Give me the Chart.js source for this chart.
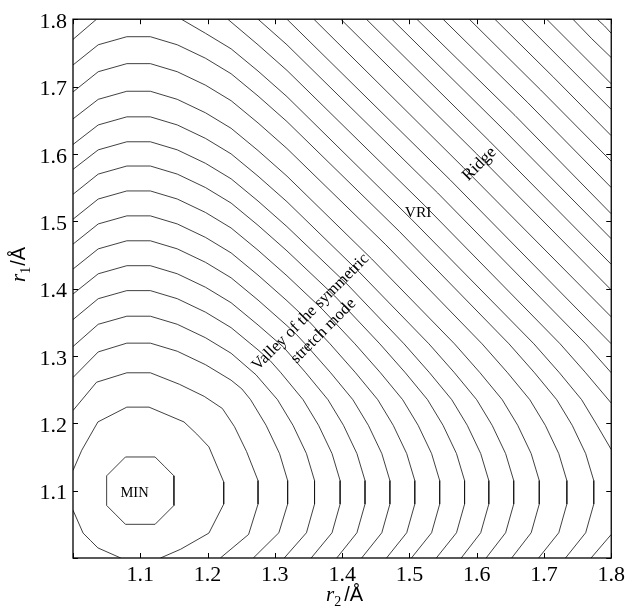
<!DOCTYPE html>
<html>
<head>
<meta charset="utf-8">
<script src="https://cdn.jsdelivr.net/npm/chart.js@4.4.1/dist/chart.umd.min.js"></script>
<style>
  html, body { margin: 0; padding: 0; background: #fff; }
  #wrap { width: 629px; height: 609px; position: relative; }
</style>
</head>
<body>
<div id="wrap"><canvas id="c" width="629" height="609"></canvas></div>
<script>
// Axis ticks (Å)
const tickValues = [1.0, 1.1, 1.2, 1.3, 1.4, 1.5, 1.6, 1.7, 1.8];

// Contour lines: upper half (r1 >= r2) read as [r2, r1] points.
// The surface is symmetric in r1 <-> r2; the lower half is the mirror image.
const c01 = [[1.064,1.064],[1.05,1.078],[1.05,1.122],[1.078,1.15],[1.122,1.15],[1.136,1.136]];
const c02 = [[1.0,1.130],[1.013,1.160],[1.037,1.202],[1.08,1.224],[1.113,1.224],[1.165,1.202],[1.184,1.184]];
const c02b = [[1.0,1.071],[1.015,1.037],[1.026,1.026]];
const c03 = [[1.0,1.219],[1.035,1.261],[1.08,1.275],[1.115,1.275],[1.158,1.258],[1.195,1.240],[1.222,1.222]];
const c04 = [[1.0,1.268],[1.0375,1.306],[1.08,1.319],[1.115,1.319],[1.155,1.307],[1.197,1.287],[1.235,1.264],[1.251,1.251]];
const c05 = [[1.0,1.314],[1.0375,1.347],[1.08,1.359],[1.115,1.359],[1.155,1.347],[1.197,1.327],[1.235,1.304],[1.272,1.272]];
const c06 = [[1.0,1.354],[1.0375,1.385],[1.08,1.397],[1.115,1.397],[1.155,1.385],[1.197,1.365],[1.235,1.342],[1.275,1.309],[1.293,1.293]];
const c07 = [[1.0,1.392],[1.0375,1.422],[1.08,1.434],[1.115,1.434],[1.155,1.422],[1.197,1.402],[1.235,1.379],[1.275,1.346],[1.313,1.313]];
const c08 = [[1.0,1.429],[1.0375,1.459],[1.08,1.471],[1.115,1.471],[1.155,1.459],[1.197,1.439],[1.235,1.416],[1.275,1.383],[1.318,1.345],[1.332,1.332]];
const c09 = [[1.0,1.466],[1.0375,1.496],[1.08,1.508],[1.115,1.508],[1.155,1.496],[1.197,1.476],[1.235,1.453],[1.275,1.420],[1.318,1.382],[1.351,1.351]];
const c10 = [[1.0,1.503],[1.0375,1.533],[1.08,1.545],[1.115,1.545],[1.155,1.533],[1.197,1.513],[1.235,1.490],[1.275,1.457],[1.318,1.419],[1.370,1.370]];
const c11 = [[1.0,1.540],[1.0375,1.570],[1.08,1.582],[1.115,1.582],[1.155,1.570],[1.197,1.550],[1.235,1.527],[1.275,1.494],[1.318,1.456],[1.389,1.389]];
const c12 = [[1.0,1.577],[1.0375,1.606],[1.08,1.618],[1.115,1.618],[1.155,1.606],[1.197,1.586],[1.235,1.563],[1.275,1.530],[1.318,1.492],[1.407,1.407]];
const c13 = [[1.0,1.614],[1.0375,1.643],[1.08,1.655],[1.115,1.655],[1.155,1.643],[1.197,1.623],[1.235,1.600],[1.275,1.567],[1.318,1.529],[1.425,1.425]];
const c14 = [[1.0,1.652],[1.0375,1.681],[1.08,1.693],[1.115,1.693],[1.155,1.681],[1.197,1.661],[1.235,1.638],[1.275,1.605],[1.318,1.567],[1.444,1.444]];
const c15 = [[1.0,1.692],[1.0375,1.722],[1.08,1.734],[1.115,1.734],[1.155,1.722],[1.197,1.702],[1.235,1.679],[1.275,1.646],[1.318,1.608],[1.465,1.465]];
const c16 = [[1.0,1.732],[1.0375,1.762],[1.08,1.774],[1.115,1.774],[1.155,1.762],[1.197,1.742],[1.235,1.719],[1.275,1.686],[1.318,1.648],[1.485,1.485]];
const c17a = [[1.0,1.770],[1.035,1.8]];
const c17 = [[1.161,1.8],[1.197,1.779],[1.235,1.756],[1.275,1.723],[1.318,1.685],[1.503,1.503]];
const c18 = [[1.230,1.8],[1.275,1.762],[1.318,1.724],[1.523,1.523]];
const c19 = [[1.275,1.8],[1.318,1.762],[1.542,1.542]];
const c20 = [[1.318,1.8],[1.561,1.561]];
const c21 = [[1.358,1.8],[1.580,1.580]];
const c22 = [[1.398,1.8],[1.600,1.600]];
const c23 = [[1.436,1.8],[1.619,1.619]];
const c24 = [[1.474,1.8],[1.638,1.638]];
const c25 = [[1.511,1.8],[1.657,1.657]];
const c26 = [[1.550,1.8],[1.676,1.676]];
const c27 = [[1.589,1.8],[1.695,1.695]];
const c28 = [[1.627,1.8],[1.714,1.714]];
const c29 = [[1.666,1.8],[1.733,1.733]];
const c30 = [[1.704,1.8],[1.752,1.752]];
const c31 = [[1.743,1.8],[1.771,1.771]];
const c32 = [[1.779,1.8],[1.790,1.790]];

const contourHalves = [c01,c02,c02b,c03,c04,c05,c06,c07,c08,c09,c10,c11,c12,c13,c14,c15,c16,
  c17a,c17,c18,c19,c20,c21,c22,c23,c24,c25,c26,c27,c28,c29,c30,c31,c32];

// Text annotations
const labelTexts = ['MIN', 'VRI', 'Ridge', 'Valley of the symmetric', 'stretch mode'];
const labelR2 = [1.0915, 1.513, 1.604, 1.353, 1.372];
const labelR1 = [1.096, 1.513, 1.585, 1.365, 1.337];
const labelRot = [0, 0, -45, -45, -45];
const labelSize = [14.5, 15.5, 17, 16.5, 16.5];

// Build datasets: half + mirrored half (joined when the half ends on the diagonal)
const datasets = [];
const lineStyle = { showLine: true, pointRadius: 0, borderColor: 'rgba(20,20,20,0.9)', borderWidth: 0.9, fill: false, tension: 0 };
contourHalves.forEach(h => {
  const pts = h.map(p => ({x: p[0], y: p[1]}));
  const mirror = h.map(p => ({x: p[1], y: p[0]})).reverse();
  const last = h[h.length - 1];
  if (Math.abs(last[0] - last[1]) < 1e-9) {
    datasets.push(Object.assign({ data: pts.concat(mirror.slice(1)) }, lineStyle));
  } else {
    datasets.push(Object.assign({ data: pts }, lineStyle));
    datasets.push(Object.assign({ data: mirror }, lineStyle));
  }
});

const overlay = {
  id: 'overlay',
  afterDraw(chart) {
    const { ctx, chartArea: a, scales: { x, y } } = chart;
    ctx.save();
    // frame
    ctx.strokeStyle = '#000';
    ctx.lineWidth = 1.3;
    ctx.strokeRect(a.left, a.top, a.right - a.left, a.bottom - a.top);
    // inward ticks
    ctx.lineWidth = 1;
    tickValues.forEach(v => {
      const px = Math.round(x.getPixelForValue(v)) + 0.5;
      const py = Math.round(y.getPixelForValue(v)) + 0.5;
      ctx.beginPath();
      ctx.moveTo(px, a.bottom); ctx.lineTo(px, a.bottom - 5);
      ctx.moveTo(px, a.top); ctx.lineTo(px, a.top + 5);
      ctx.moveTo(a.left, py); ctx.lineTo(a.left + 5, py);
      ctx.moveTo(a.right, py); ctx.lineTo(a.right - 5, py);
      ctx.stroke();
    });
    // annotations
    ctx.fillStyle = '#000';
    ctx.textAlign = 'center';
    ctx.textBaseline = 'middle';
    labelTexts.forEach((t, i) => {
      ctx.save();
      ctx.translate(x.getPixelForValue(labelR2[i]), y.getPixelForValue(labelR1[i]));
      ctx.rotate(labelRot[i] * Math.PI / 180);
      ctx.font = labelSize[i] + 'px "Liberation Serif", "Times New Roman", serif';
      ctx.fillText(t, 0, 0);
      ctx.restore();
    });
    // x axis title: r2 /Å
    ctx.textAlign = 'left';
    ctx.textBaseline = 'alphabetic';
    let cx = 326, by = 601;
    ctx.font = 'italic 21px "Liberation Serif", serif';
    ctx.fillText('r', cx, by); cx += ctx.measureText('r').width;
    ctx.font = '14px "Liberation Serif", serif';
    ctx.fillText('2', cx, by + 5); cx += ctx.measureText('2').width + 3;
    ctx.font = '20px "Liberation Sans", Arial, sans-serif';
    ctx.fillText('/Å', cx, by);
    // y axis title: r1/Å (rotated)
    ctx.save();
    ctx.translate(25, 282);
    ctx.rotate(-Math.PI / 2);
    let cy = 0;
    ctx.font = 'italic 21px "Liberation Serif", serif';
    ctx.fillText('r', cy, 0); cy += ctx.measureText('r').width;
    ctx.font = '14px "Liberation Serif", serif';
    ctx.fillText('1', cy, 5); cy += ctx.measureText('1').width + 1;
    ctx.font = '20px "Liberation Sans", Arial, sans-serif';
    ctx.fillText('/Å', cy, 0);
    ctx.restore();
    ctx.restore();
  }
};

const tickFont = { family: '"Liberation Serif", "Times New Roman", serif', size: 22 };

new Chart(document.getElementById('c'), {
  type: 'scatter',
  data: { datasets },
  options: {
    responsive: false,
    animation: false,
    layout: { autoPadding: false, padding: { left: 0, right: 14, top: 17, bottom: 0 } },
    plugins: { legend: { display: false }, tooltip: { enabled: false } },
    scales: {
      x: {
        type: 'linear', min: 1.0, max: 1.8,
        afterFit: s => { s.height = 51; },
        afterBuildTicks: s => { s.ticks = tickValues.map(v => ({ value: v })); },
        grid: { display: false, drawTicks: false },
        border: { display: false },
        ticks: { color: '#000', font: tickFont, padding: 4, maxRotation: 0, autoSkip: false,
                 callback: v => (v < 1.05 ? '' : Number(v).toFixed(1)) }
      },
      y: {
        type: 'linear', min: 1.0, max: 1.8,
        afterFit: s => { s.width = 73; },
        afterBuildTicks: s => { s.ticks = tickValues.map(v => ({ value: v })); },
        grid: { display: false, drawTicks: false },
        border: { display: false },
        ticks: { color: '#000', font: tickFont, padding: 6, autoSkip: false, labelOffset: 3,
                 callback: v => (v < 1.05 ? '' : Number(v).toFixed(1)) }
      }
    }
  },
  plugins: [overlay]
});
</script>
</body>
</html>
